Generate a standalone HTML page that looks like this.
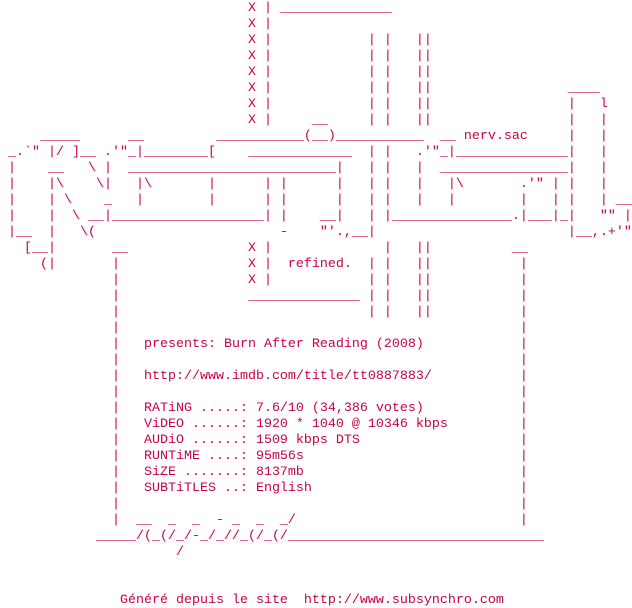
<!DOCTYPE html>
<html><head><meta charset="utf-8"><style>
html,body{margin:0;padding:0;background:#fff;width:632px;height:608px;overflow:hidden}
pre{margin:0;padding:1px 0 0 0;font-family:"Liberation Mono","Courier New",monospace;font-size:13.333px;line-height:16px;color:#cc0044;white-space:pre}
</style></head><body><pre>                               X | ______________
                               X |
                               X |            | |   ||
                               X |            | |   ||
                               X |            | |   ||
                               X |            | |   ||                 ____
                               X |            | |   ||                 |   l
                               X |     __     | |   ||                 |   |
     _____      __         ___________(__)___________  __ nerv.sac     |   |
 _.`" |/ ]__ .'"_|________[    _____________  | |   .'"_|______________|   |
 |    __   \ |  __________________________|   | |   |  ________________|   |
 |    |\    \|   |\       |      | |      |   | |   |   |\       .'" | |   |
 |    | \    _   |        |      | |      |   | |   |   |        |   | |   | __
 |    |  \ __|___________________| |    __|   | |_______________.|___|_|   "" |
 |__  |   \(                       -    "'.,__|                        |__,.+'"
   [__|       __               X |              |   ||          __
     (|       |                X |  refined.  | |   ||           |
              |                X |            | |   ||           |
              |                ______________ | |   ||           |
              |                               | |   ||           |
              |                                                  |
              |   presents: Burn After Reading (2008)            |
              |                                                  |
              |   http://www.imdb.com/title/tt0887883/           |
              |                                                  |
              |   RATiNG .....: 7.6/10 (34,386 votes)            |
              |   ViDEO ......: 1920 * 1040 @ 10346 kbps         |
              |   AUDiO ......: 1509 kbps DTS                    |
              |   RUNTiME ....: 95m56s                           |
              |   SiZE .......: 8137mb                           |
              |   SUBTiTLES ..: English                          |
              |                                                  |
              |  __  _  _  - _  _  _/                            |
            _____/(_(/_/-_/_//_(/_(/________________________________
                      /


               Généré depuis le site  http://www.subsynchro.com
</pre></body></html>
